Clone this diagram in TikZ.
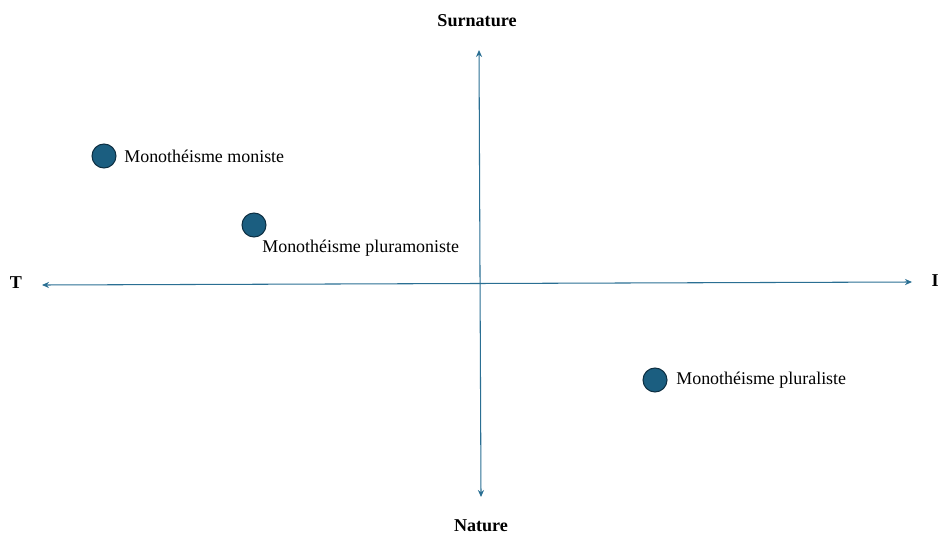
\documentclass[tikz,border=0pt]{standalone}
\usepackage{fontspec}
\setmainfont{Liberation Serif}
\usetikzlibrary{arrows.meta,positioning}
\definecolor{axisblue}{HTML}{2A6F93}
\definecolor{dotblue}{HTML}{1B5E80}
\definecolor{dotrim}{HTML}{0E2F42}
\begin{document}
\begin{tikzpicture}[x=0.2mm,y=-0.2mm,
    axis/.style={axisblue,line width=0.6pt,{Stealth[length=4pt,width=3.5pt]}-{Stealth[length=4pt,width=3.5pt]}},
    pole/.style={font=\fontsize{10.3}{12}\selectfont\bfseries},
    dot/.style={circle,draw=dotrim,fill=dotblue,line width=0.6pt,minimum size=4.8mm,inner sep=0pt},
    lbl/.style={font=\fontsize{10.2}{12}\selectfont,anchor=west,inner sep=0pt}]
  \useasboundingbox (0,0) rectangle (940,535);
  % axes
  \coordinate (west) at (42,285);
  \coordinate (east) at (912,282);
  \coordinate (top) at (479,50);
  \coordinate (bottom) at (481,497);
  \draw[axis] (west) -- (east);
  \draw[axis] (top) -- (bottom);
  % poles
  \node[pole] (surnature) at (477,21) {Surnature};
  \node[pole] (nature) at (481,526) {Nature};
  \node[pole] (T) at (16,283) {T};
  \node[pole,anchor=east,inner sep=0.5pt] (I) at (940,281) {I};
  % positions
  \node[dot] (moniste) at (104,156) {};
  \node[dot] (pluramoniste) at (254,225) {};
  \node[dot] (pluraliste) at (655,380) {};
  \node[lbl] (lmoniste) at (124,156) {Monothéisme moniste};
  \node[lbl] (lpluramoniste) at (262,248) {Monothéisme pluramoniste};
  \node[lbl] (lpluraliste) at (676,380) {Monothéisme pluraliste};
\end{tikzpicture}
\end{document}
